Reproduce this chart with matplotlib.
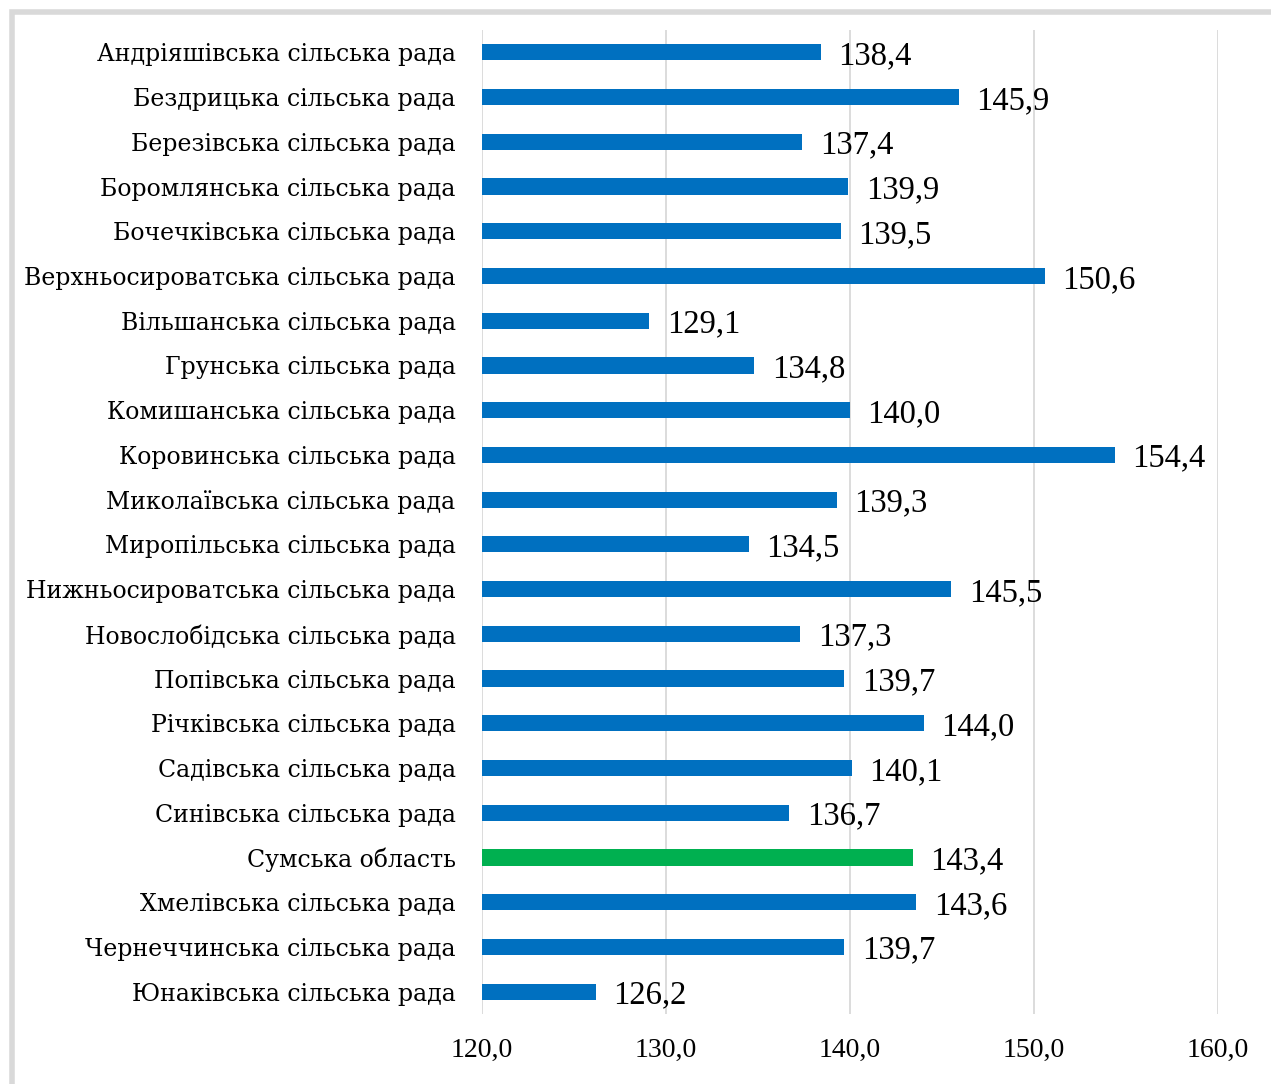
import matplotlib
matplotlib.use("Agg")
import matplotlib.pyplot as plt
from matplotlib.patches import Rectangle

# data
names = ["Андріяшівська сільська рада", "Бездрицька сільська рада",
         "Березівська сільська рада", "Боромлянська сільська рада",
         "Бочечківська сільська рада", "Верхньосироватська сільська рада",
         "Вільшанська сільська рада", "Грунська сільська рада",
         "Комишанська сільська рада", "Коровинська сільська рада",
         "Миколаївська сільська рада", "Миропільська сільська рада",
         "Нижньосироватська сільська рада", "Новослобідська сільська рада",
         "Попівська сільська рада", "Річківська сільська рада",
         "Садівська сільська рада", "Синівська сільська рада",
         "Сумська область", "Хмелівська сільська рада",
         "Чернеччинська сільська рада", "Юнаківська сільська рада"]
values = [138.4, 145.9, 137.4, 139.9, 139.5, 150.6, 129.1, 134.8, 140.0, 154.4,
          139.3, 134.5, 145.5, 137.3, 139.7, 144.0, 140.1, 136.7, 143.4, 143.6,
          139.7, 126.2]
highlight = "Сумська область"
xticks = [120, 130, 140, 150, 160]

W, H = 1271, 1084
fig = plt.figure(figsize=(W / 100, H / 100), dpi=100)
fig.patch.set_facecolor("white")

# shadowed frame round the chart
fig.patches.append(Rectangle((12 / W, -0.05), 1.2, 1 - 12 / H + 0.05,
                             transform=fig.transFigure, fill=False,
                             edgecolor="#d9d9d9", linewidth=4, zorder=0))

ax = fig.add_axes([482 / W, 1 - 1014 / H, (1218 - 482) / W, (1014 - 30) / H])

pos = list(range(len(names)))
colors = ["#00B050" if n == highlight else "#0070C0" for n in names]
ax.barh(pos, [v - 120 for v in values], left=120, height=0.36, color=colors, zorder=2)

for p, v in zip(pos, values):
    ax.text(v + 0.95, p + 0.08, f"{v:.1f}".replace(".", ","), va="center", ha="left",
            fontsize=23.5, family="Liberation Serif", color="black")

ax.set_xlim(120, 160)
ax.set_ylim(len(names) - 0.5, -0.5)
ax.set_yticks(pos)
ax.set_yticklabels(names, fontsize=17, family="DejaVu Serif")
ax.set_xticks(xticks)
ax.set_xticklabels([f"{t:.1f}".replace(".", ",") for t in xticks],
                   fontsize=20, family="Liberation Serif")
ax.tick_params(axis="both", length=0)
ax.tick_params(axis="y", pad=19)
ax.tick_params(axis="x", pad=17)
ax.grid(axis="x", color="#d9d9d9", linewidth=1.3, zorder=0)
for s in ax.spines.values():
    s.set_visible(False)
ax.set_axisbelow(True)

fig.savefig("out.png", dpi=100)
